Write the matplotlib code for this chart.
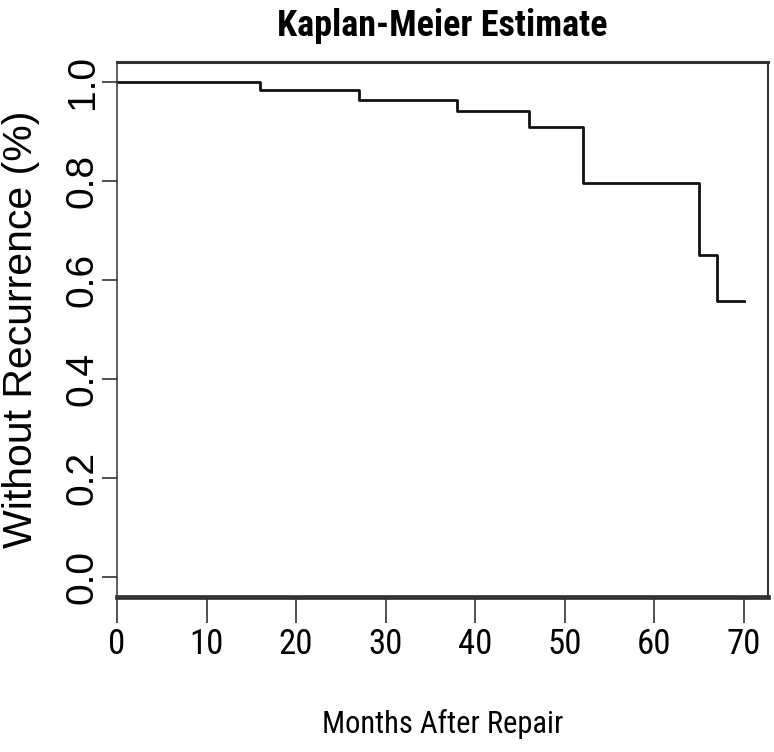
import matplotlib
matplotlib.use("Agg")
import matplotlib.pyplot as plt

# Kaplan-Meier steps
months = [0, 16, 27, 38, 46, 52, 65, 67, 70]
survival = [1.0, 0.984, 0.964, 0.941, 0.908, 0.796, 0.650, 0.558, 0.558]

x_ticks = [0, 10, 20, 30, 40, 50, 60, 70]
y_ticks = [0.0, 0.2, 0.4, 0.6, 0.8, 1.0]
y_tick_labels = ["0.0", "0.2", "0.4", "0.6", "0.8", "1.0"]

NARROW = ["Roboto Condensed", "Liberation Sans", "DejaVu Sans"]
REGULAR = ["Liberation Sans", "DejaVu Sans"]

fig = plt.figure(figsize=(7.74, 7.52), dpi=100)
ax = fig.add_axes([0.1512, 0.2061, 0.9922 - 0.1512, 0.9176 - 0.2061])

ax.step(months, survival, where="post", color="#111111", lw=2.0)

ax.set_xlim(0, 72.7)
ax.set_ylim(-0.04, 1.04)

ax.set_xticks(x_ticks)
ax.set_xticklabels([str(t) for t in x_ticks], family=NARROW, fontsize=25)
ax.set_yticks(y_ticks)
ax.set_yticklabels(y_tick_labels, family=REGULAR, fontsize=28,
                   rotation=90, va="center", ha="right")

ax.tick_params(axis="x", direction="out", length=18.5, width=1.1,
               color="#222222", pad=4)
ax.tick_params(axis="y", direction="out", length=10.8, width=1.1,
               color="#222222", pad=1)

for side, lw in [("left", 1.1), ("top", 2.2), ("right", 1.5), ("bottom", 3.4)]:
    ax.spines[side].set_linewidth(lw)
    ax.spines[side].set_color("#333333")

ax.set_xlabel("Months After Repair", family=NARROW, fontsize=22)
ax.xaxis.set_label_coords(0.5, (752 - 723 - 156) / 535.0)
ax.xaxis.label.set_va("center")

ax.set_ylabel("Without Recurrence (%)", family=REGULAR, fontsize=29.5)
ax.yaxis.set_label_coords((21 - 117) / 651.0, 0.5)
ax.yaxis.label.set_va("center")

fig.text(0.5717, 1 - 36 / 752.0, "Kaplan-Meier Estimate", family=NARROW,
         fontsize=26, fontweight="bold", ha="center", va="baseline")

fig.savefig("out.png", dpi=100)
